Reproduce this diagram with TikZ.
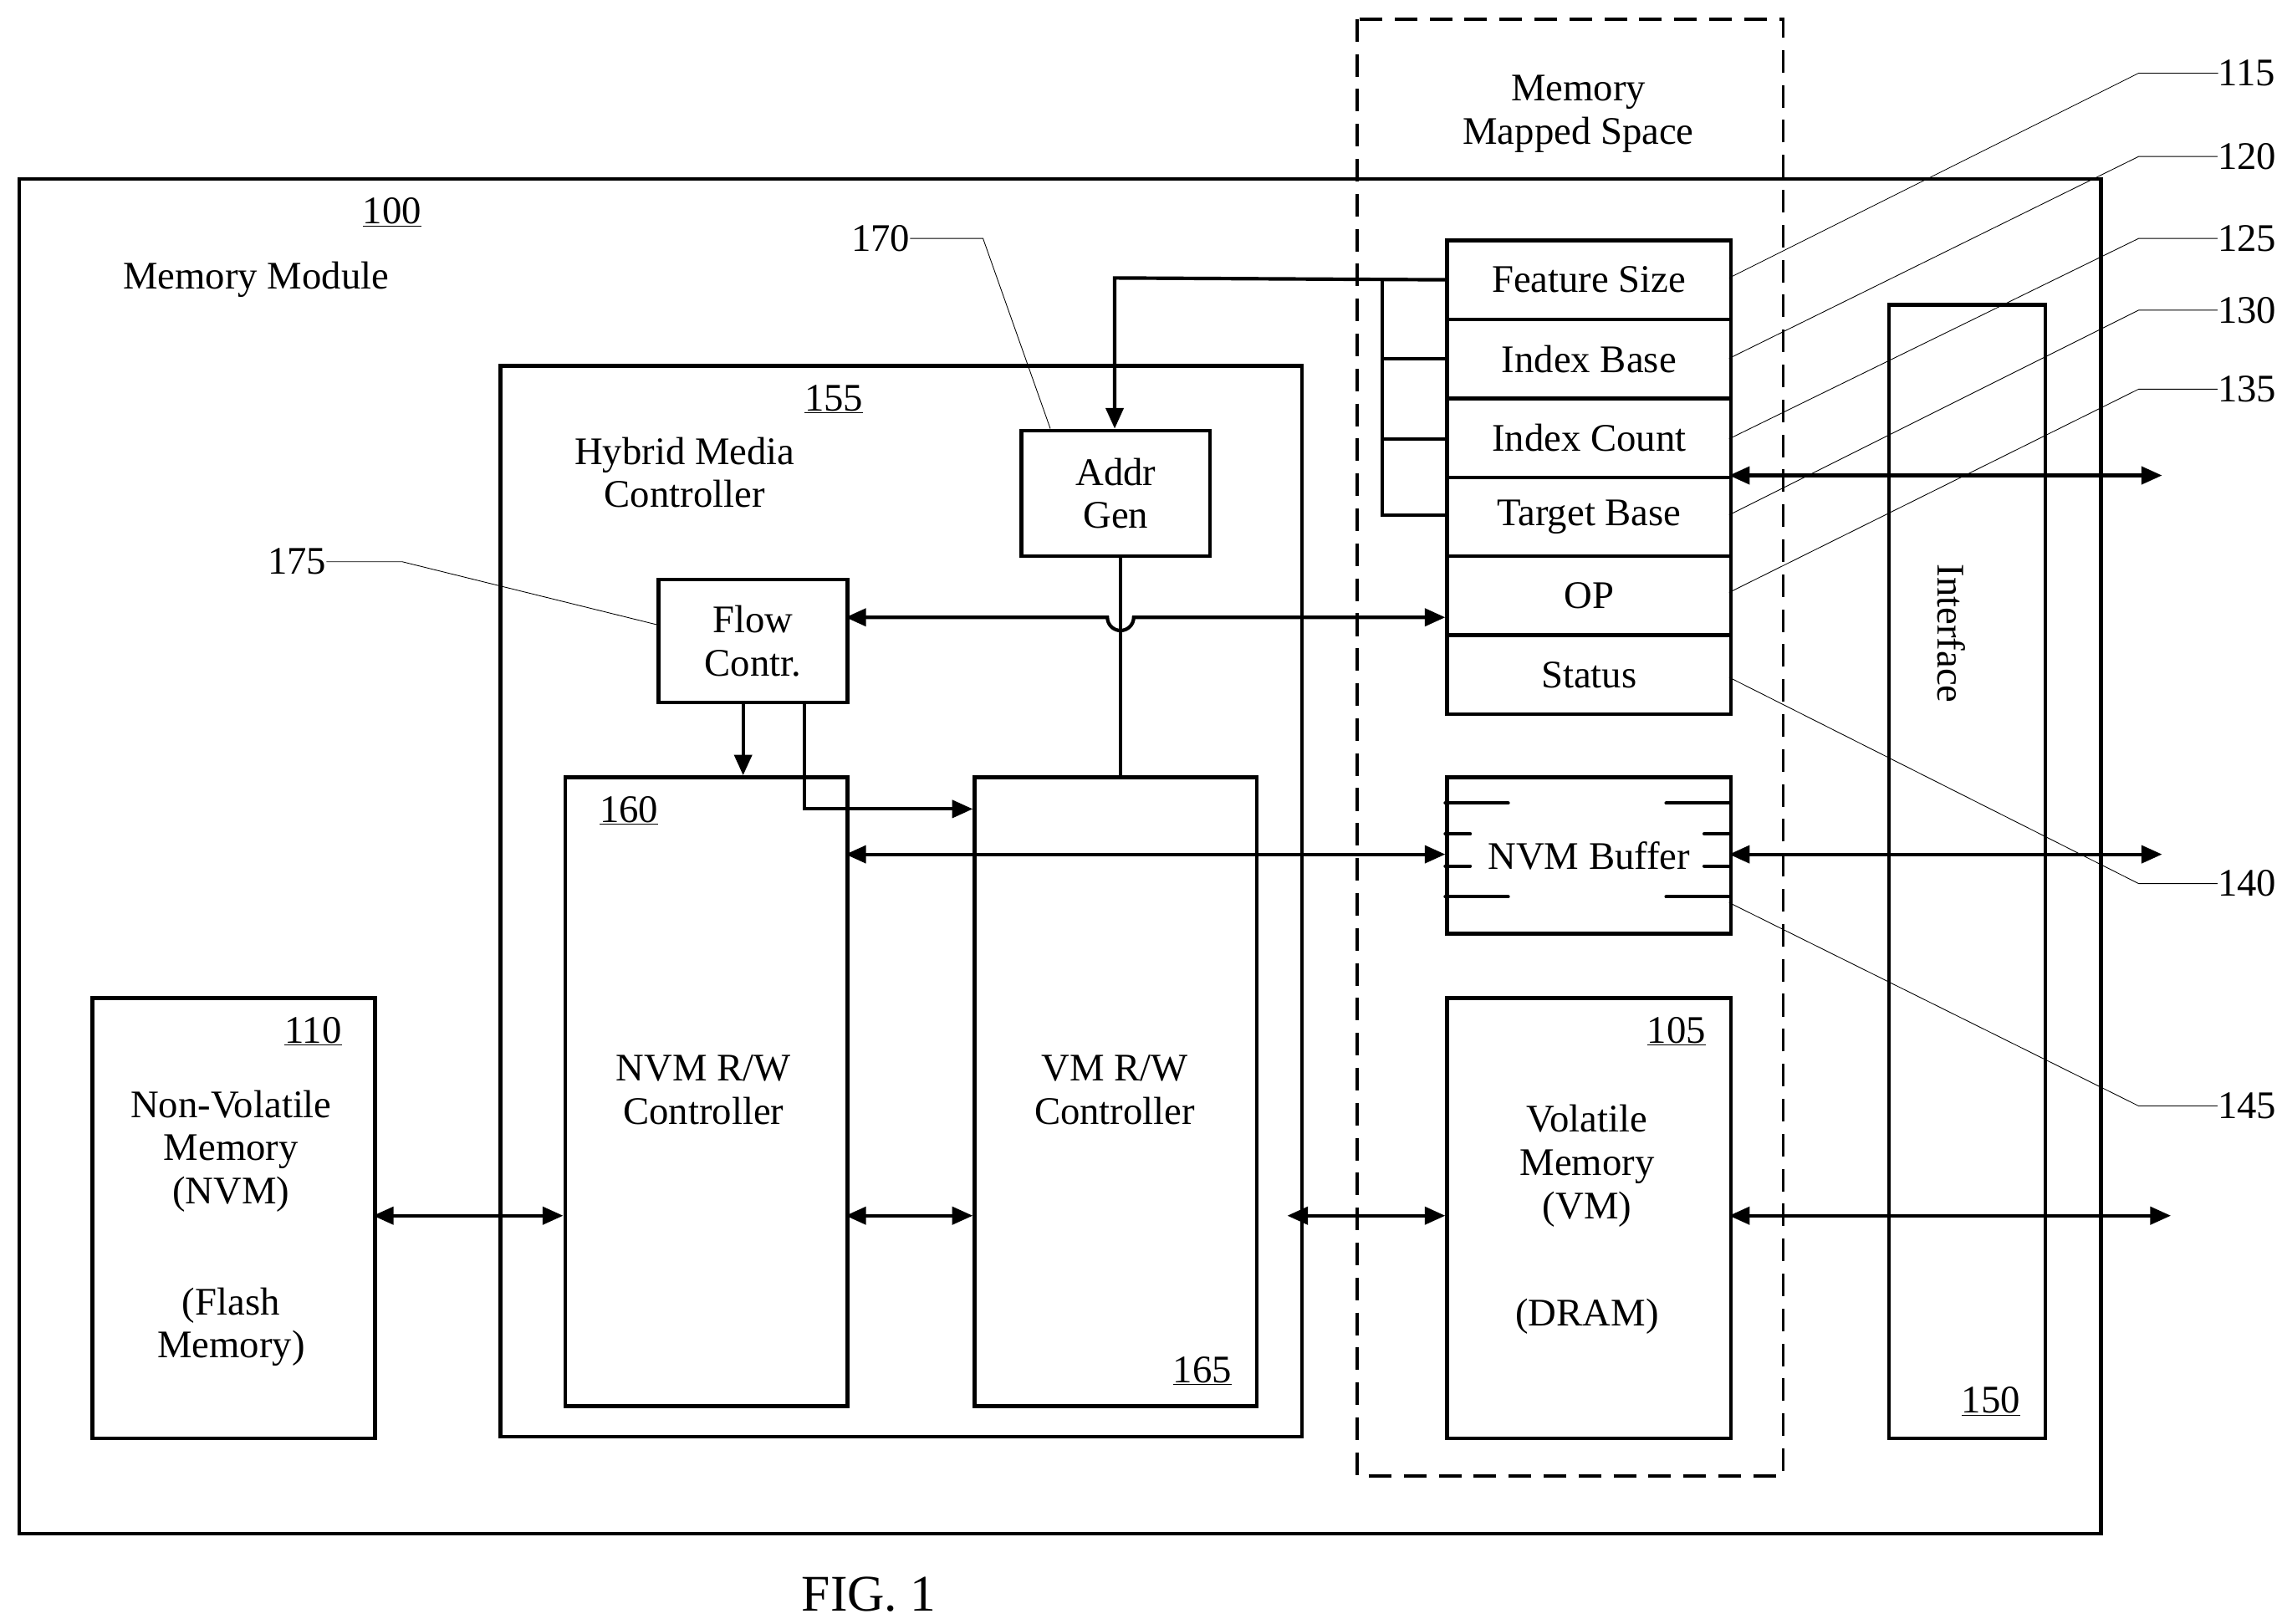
\documentclass[tikz,border=0pt]{standalone}
\usepackage{fontspec}
\setmainfont{Liberation Serif}
\usetikzlibrary{arrows.meta}
\begin{document}
\begin{tikzpicture}[x=0.05cm,y=-0.05cm,
  box/.style={draw,line width=3.6pt},
  txt/.style={font=\fontsize{38}{46}\selectfont,align=center,inner sep=0},
  conn/.style={line width=3.4pt},
  arr/.style={conn,-{Triangle[length=20pt,width=17pt]}},
  darr/.style={conn,{Triangle[length=20pt,width=17pt]}-{Triangle[length=20pt,width=17pt]}},
  lead/.style={line width=0.7pt}]
\useasboundingbox (0,0) rectangle (1560,1110);
% outer
\node[box,minimum width=1423*0.05cm,minimum height=926*0.05cm,anchor=north west,inner sep=0] (mm) at (12,121) {};
\draw[line width=3.2pt,dash pattern=on 22pt off 12pt] (928,13) rectangle (1219,1009);
\node[txt] (mms) at (1079,78) {Memory\\[-4pt]Mapped Space};
\node[txt] (l100) at (268,145) {\underline{100}};
\node[txt] (mml) at (175,191) {Memory Module};
% hybrid
\draw[box] (342,250) rectangle (890,982);
\node[txt] (l155) at (570,273) {\underline{155}};
\node[txt] (hmc) at (468,323) {Hybrid Media\\[-4pt]Controller};
% addr gen
\node[box,minimum width=129*0.05cm,minimum height=86*0.05cm,anchor=north west,inner sep=0] (ag) at (697,293) {};
\node[txt] at (ag.center) {Addr\\[-4pt]Gen};
\node[box,minimum width=129*0.05cm,minimum height=84*0.05cm,anchor=north west,inner sep=0] (fc) at (449,395) {};
\node[txt] at (fc.center) {Flow\\[-4pt]Contr.};
% NVM RW
\node[box,minimum width=193*0.05cm,minimum height=430*0.05cm,anchor=north west,inner sep=0] (nrw) at (385,530) {};
\node[txt] at (430,554) {\underline{160}};
\node[txt] at (481,745) {NVM R/W\\[-4pt]Controller};
\node[box,minimum width=193*0.05cm,minimum height=430*0.05cm,anchor=north west,inner sep=0] (vrw) at (665,530) {};
\node[txt] at (822,937) {\underline{165}};
\node[txt] at (762,745) {VM R/W\\[-4pt]Controller};
% NVM
\node[box,minimum width=193*0.05cm,minimum height=301*0.05cm,anchor=north west,inner sep=0] (nvm) at (62,681) {};
\node[txt] at (214,705) {\underline{110}};
\node[txt] at (158,787) {Non-Volatile\\[-4pt]Memory\\[-4pt](NVM)};
\node[txt] at (158,907) {(Flash\\[-4pt]Memory)};
% registers
\foreach \n/\t/\y in {fs/Feature Size/163,ib/Index Base/217,ic/Index Count/271,tb/Target Base/325,op/OP/379,st/Status/433}{
  \node[box,minimum width=194*0.05cm,minimum height=54*0.05cm,anchor=north west,inner sep=0] (\n) at (988,\y) {};
  \node[txt] at (\n.center) {\t};
}
% NVM buffer
\node[box,minimum width=194*0.05cm,minimum height=107*0.05cm,anchor=north west,inner sep=0] (nb) at (988,530) {};
\node[txt] at (nb.center) {NVM Buffer};
\foreach \y/\l in {549/43,613/43,570/17,592/17}{
  \draw[conn,line cap=round] (988,\y) -- ++(\l,0);
  \draw[conn,line cap=round] (1182,\y) -- ++(-\l,0);
}
% VM
\node[box,minimum width=194*0.05cm,minimum height=301*0.05cm,anchor=north west,inner sep=0] (vm) at (988,681) {};
\node[txt] at (1146,705) {\underline{105}};
\node[txt] at (1085,797) {Volatile\\[-4pt]Memory\\[-4pt](VM)};
\node[txt] at (1085,900) {(DRAM)};
% interface
\node[box,minimum width=107*0.05cm,minimum height=775*0.05cm,anchor=north west,inner sep=0] (if) at (1290,207) {};
\node[txt,rotate=-90] at (1334,433) {Interface};
\node[txt] at (1361,958) {\underline{150}};
% connectors
\draw[arr] (fs.west) -- (762,190) -- (762,293);
\draw[conn] (945,190) -- (945,352) -- (988,352);
\draw[conn] (945,245) -- (988,245);
\draw[conn] (945,300) -- (988,300);
\draw[conn] (766,379) -- (766,530);
\draw[darr] (578,422) -- (757,422) arc[start angle=180,end angle=0,radius=9] -- (988,422);
\draw[arr] (508,479) -- (508,530);
\draw[arr] (550,479) -- (550,553) -- (665,553);
\draw[darr] (578,584) -- (988,584);
\draw[darr] (255,831) -- (385,831);
\draw[darr] (578,831) -- (665,831);
\draw[darr] (880,831) -- (988,831);
\draw[darr] (1182,325) -- (1478,325);
\draw[darr] (1182,584) -- (1478,584);
\draw[darr] (1182,831) -- (1484,831);
% leaders
\foreach \sy/\ly/\t in {190/50/115,245/107/120,300/163/125,352/212/130,405/266/135,463/604/140,617/756/145}{
  \node[txt] (L\t) at (1536,\ly) {\t};
  \draw[lead] (1182,\sy) -- (1462,\ly) -- (L\t.west);
}
\node[txt] (L170) at (602,163) {170};
\draw[lead] (L170.east) -- (672,163) -- (718,293);
\node[txt] (L175) at (203,384) {175};
\draw[lead] (L175.east) -- (275,384) -- (449,427);
\node[txt,font=\fontsize{50}{60}\selectfont] at (594,1090) {FIG. 1};
\end{tikzpicture}
\end{document}
